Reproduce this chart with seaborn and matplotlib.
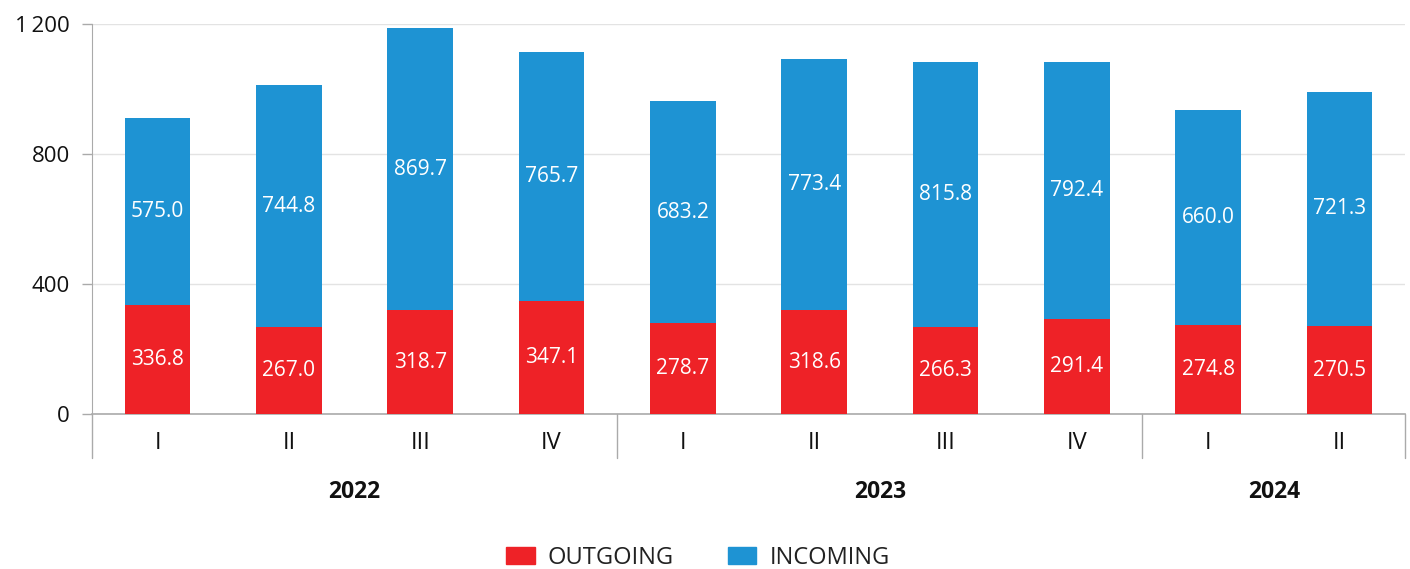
import seaborn as sns
import pandas as pd
import matplotlib.pyplot as plt
from matplotlib.patches import Patch
from matplotlib.transforms import blended_transform_factory

years = ["2022", "2022", "2022", "2022", "2023", "2023", "2023", "2023", "2024", "2024"]
quarters = ["I", "II", "III", "IV", "I", "II", "III", "IV", "I", "II"]
outgoing = [336.8, 267.0, 318.7, 347.1, 278.7, 318.6, 266.3, 291.4, 274.8, 270.5]
incoming = [575.0, 744.8, 869.7, 765.7, 683.2, 773.4, 815.8, 792.4, 660.0, 721.3]
yticks = [0, 400, 800, 1200]
ytick_labels = ["0", "400", "800", "1\u2009200"]

RED = "#ee2227"
BLUE = "#1e93d3"


def main():
    sns.set_style("white")
    plt.rcParams["font.family"] = ["Open Sans", "DejaVu Sans"]

    df = pd.DataFrame({"year": years, "quarter": quarters,
                       "out": outgoing, "inc": incoming})
    df["key"] = df["year"] + " " + df["quarter"]
    df["total"] = df["out"] + df["inc"]

    fig = plt.figure(figsize=(14.1, 5.69), dpi=100)
    ax = fig.add_axes([0.0652, 0.2724, 0.9313, 0.6854])

    sns.barplot(data=df, x="key", y="total", color=BLUE, width=0.5,
                saturation=1, linewidth=0, ax=ax, zorder=2)
    sns.barplot(data=df, x="key", y="out", color=RED, width=0.5,
                saturation=1, linewidth=0, ax=ax, zorder=3)

    # value labels
    for i, row in df.iterrows():
        ax.text(i, row["out"] / 2, f"{row['out']:.1f}", ha="center", va="center",
                color="white", fontsize=15, zorder=4)
        ax.text(i, row["out"] + row["inc"] / 2, f"{row['inc']:.1f}", ha="center",
                va="center", color="white", fontsize=15, zorder=4)

    ax.set_xlim(-0.5, len(df) - 0.5)
    ax.set_ylim(0, 1200)
    ax.set_yticks(yticks)
    ax.set_yticklabels(ytick_labels)
    ax.yaxis.grid(True, color="#e3e3e3", linewidth=1, zorder=0)
    ax.set_axisbelow(True)
    ax.set_xlabel("")
    ax.set_ylabel("")
    ax.set_xticks(range(len(df)))
    ax.set_xticklabels(list(df["quarter"]))
    ax.tick_params(axis="x", length=0, pad=12, labelsize=17, labelcolor="#111111")
    ax.tick_params(axis="y", length=7, width=1, color="#aaaaaa", pad=9,
                   labelsize=16, labelcolor="#111111", left=True)

    for s in ["top", "right"]:
        ax.spines[s].set_visible(False)
    ax.spines["left"].set_color("#aaaaaa")
    ax.spines["bottom"].set_color("#aaaaaa")
    ax.spines["bottom"].set_linewidth(1.2)

    # year groups: separators and labels
    trans = blended_transform_factory(ax.transData, ax.transAxes)
    idx = pd.Series(range(len(df)))
    groups = idx.groupby(df["year"])
    bounds = [-0.5]
    for yr, g in groups:
        lo, hi = g.min(), g.max()
        bounds.append(hi + 0.5)
        ax.text((lo + hi) / 2, -0.2, yr, transform=trans, ha="center", va="center",
                fontsize=16.5, fontweight="bold", color="#111111")
    for b in bounds:
        ax.plot([b, b], [0, -0.113], transform=trans, color="#aaaaaa",
                linewidth=1, clip_on=False)

    handles = [Patch(color=RED, label="OUTGOING"), Patch(color=BLUE, label="INCOMING")]
    fig.legend(handles=handles, loc="center", bbox_to_anchor=(0.495, 0.02),
               ncol=2, frameon=False, fontsize=17, handlelength=1.2,
               handleheight=0.75, handletextpad=0.55, columnspacing=2.3,
               labelcolor="#222222")

    plt.savefig("out.png", dpi=100)


if __name__ == "__main__":
    main()
